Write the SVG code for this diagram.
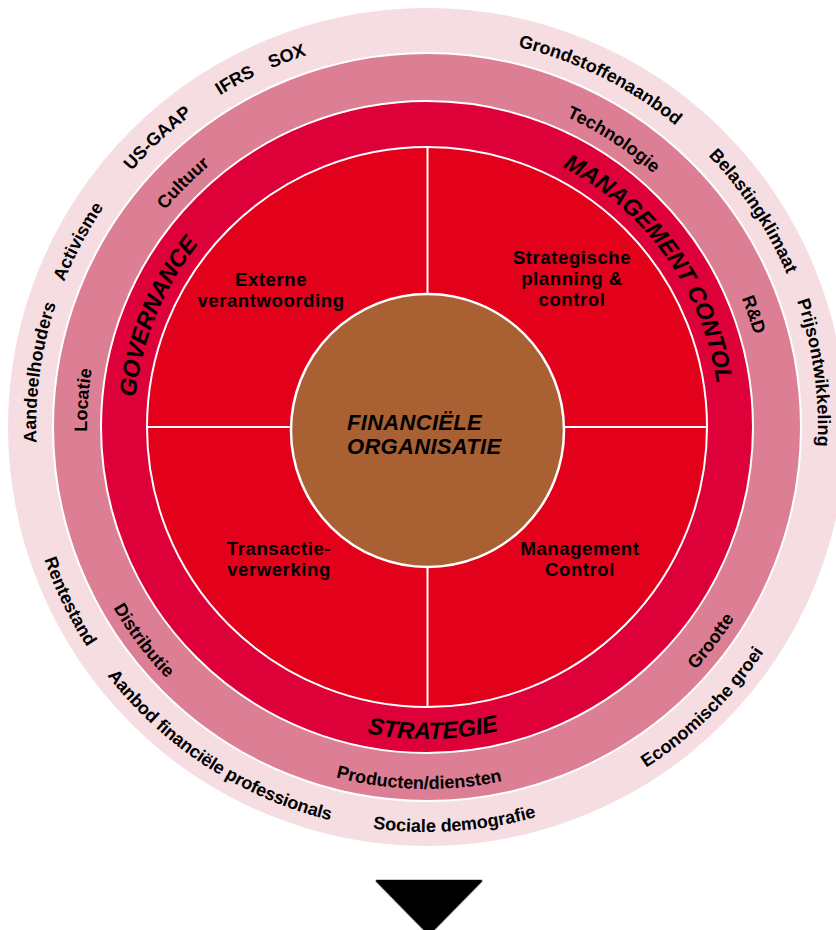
<svg xmlns="http://www.w3.org/2000/svg" width="836" height="930" viewBox="0 0 836 930">
  <style>
    .ring-lbl{font-family:"Liberation Sans",Arial,Helvetica,sans-serif;font-weight:bold;font-size:18px;fill:#000;text-anchor:middle}
    .pillar{font-family:"Liberation Sans",Arial,Helvetica,sans-serif;font-weight:bold;font-style:italic;font-size:23.5px;fill:#000;text-anchor:middle}
    .seg{font-family:"Liberation Sans",Arial,Helvetica,sans-serif;font-weight:bold;font-size:18.5px;letter-spacing:0.6px;fill:#000;text-anchor:middle}
    .core-txt{font-family:"Liberation Sans",Arial,Helvetica,sans-serif;font-weight:bold;font-style:italic;font-size:22px;letter-spacing:0.3px;fill:#000}
    .sep{stroke:#fff;stroke-width:2}
  </style>
  <defs>
    <!-- upper arcs run clockwise (glyph tops outward), lower arcs counter-clockwise (glyph tops inward) -->
    <path id="t391" d="M36,427 A391,391 0 0 1 818,427"/>
    <path id="b405" d="M22,427 A405,405 0 0 0 832,427"/>
    <path id="t340" d="M87,427 A340,340 0 0 1 767,427"/>
    <path id="b362" d="M65,427 A362,362 0 0 0 789,427"/>
    <path id="t293" d="M134,427 A293,293 0 0 1 720,427"/>
    <path id="b312" d="M115,427 A312,312 0 0 0 739,427"/>
  </defs>

  <!-- rings -->
  <g id="ring-environment">
    <circle cx="427" cy="427" r="419" fill="#f5dde2"/>
  </g>
  <g id="ring-organisation">
    <circle cx="427" cy="427" r="374" fill="#dc7e94" class="sep"/>
  </g>
  <g id="ring-pillars">
    <circle cx="427" cy="427" r="326" fill="#de0039" class="sep"/>
  </g>
  <g id="ring-processes">
    <circle cx="427" cy="427" r="280" fill="#e2001a" class="sep"/>
  </g>

  <!-- quadrant dividers -->
  <g id="dividers" class="sep">
    <line x1="427.5" y1="147" x2="427.5" y2="707"/>
    <line x1="147" y1="427" x2="707" y2="427"/>
  </g>

  <!-- core -->
  <g id="core">
    <circle cx="427.5" cy="430.5" r="136.5" fill="#a96033" stroke="#fff" stroke-width="2.5"/>
    <text class="core-txt" x="347" y="429.5">FINANCIËLE</text>
    <text class="core-txt" x="347" y="454">ORGANISATIE</text>
  </g>

  <!-- quadrant labels -->
  <g id="q-externe">
    <text class="seg" x="271" y="286">Externe</text>
    <text class="seg" x="271" y="306.5">verantwoording</text>
  </g>
  <g id="q-strategische">
    <text class="seg" x="572" y="264">Strategische</text>
    <text class="seg" x="572" y="285">planning &amp;</text>
    <text class="seg" x="572" y="306">control</text>
  </g>
  <g id="q-transactie">
    <text class="seg" x="279" y="555">Transactie-</text>
    <text class="seg" x="279" y="575.5">verwerking</text>
  </g>
  <g id="q-management">
    <text class="seg" x="580" y="555">Management</text>
    <text class="seg" x="580" y="575.5">Control</text>
  </g>

  <!-- pillar labels -->
  <g id="p-governance">
    <text class="pillar" transform="rotate(292.3 427 427)"><textPath href="#t293" startOffset="50%">GOVERNANCE</textPath></text>
  </g>
  <g id="p-management">
    <text class="pillar" transform="rotate(54.5 427 427)"><textPath href="#t293" startOffset="50%">MANAGEMENT CONTOL</textPath></text>
  </g>
  <g id="p-strategie">
    <text class="pillar" transform="rotate(-1.1 427 427)"><textPath href="#b312" startOffset="50%">STRATEGIE</textPath></text>
  </g>

  <!-- organisation factors -->
  <g id="org-factors">
    <text class="ring-lbl" transform="rotate(315 427 427)"><textPath href="#t340" startOffset="50%">Cultuur</textPath></text>
    <text class="ring-lbl" transform="rotate(33 427 427)"><textPath href="#t340" startOffset="50%">Technologie</textPath></text>
    <text class="ring-lbl" transform="rotate(71 427 427)"><textPath href="#t340" startOffset="50%">R&amp;D</textPath></text>
    <text class="ring-lbl" transform="rotate(274.5 427 427)"><textPath href="#t340" startOffset="50%">Locatie</textPath></text>
    <text class="ring-lbl" transform="rotate(-53 427 427)"><textPath href="#b362" startOffset="50%">Grootte</textPath></text>
    <text class="ring-lbl" transform="rotate(1.3 427 427)"><textPath href="#b362" startOffset="50%">Producten/diensten</textPath></text>
    <text class="ring-lbl" transform="rotate(53 427 427)"><textPath href="#b362" startOffset="50%">Distributie</textPath></text>
  </g>

  <!-- environment factors -->
  <g id="env-factors">
    <text class="ring-lbl" transform="rotate(26.5 427 427)"><textPath href="#t391" startOffset="50%">Grondstoffenaanbod</textPath></text>
    <text class="ring-lbl" transform="rotate(56.5 427 427)"><textPath href="#t391" startOffset="50%">Belastingklimaat</textPath></text>
    <text class="ring-lbl" transform="rotate(82 427 427)"><textPath href="#t391" startOffset="50%">Prijsontwikkeling</textPath></text>
    <text class="ring-lbl" transform="rotate(278 427 427)"><textPath href="#t391" startOffset="50%">Aandeelhouders</textPath></text>
    <text class="ring-lbl" transform="rotate(298 427 427)"><textPath href="#t391" startOffset="50%">Activisme</textPath></text>
    <text class="ring-lbl" transform="rotate(317 427 427)"><textPath href="#t391" startOffset="50%">US-GAAP</textPath></text>
    <text class="ring-lbl" transform="rotate(331 427 427)"><textPath href="#t391" startOffset="50%">IFRS</textPath></text>
    <text class="ring-lbl" transform="rotate(339.3 427 427)"><textPath href="#t391" startOffset="50%">SOX</textPath></text>
    <text class="ring-lbl" transform="rotate(-44.5 427 427)"><textPath href="#b405" startOffset="50%">Economische groei</textPath></text>
    <text class="ring-lbl" transform="rotate(-4 427 427)"><textPath href="#b405" startOffset="50%">Sociale demografie</textPath></text>
    <text class="ring-lbl" transform="rotate(33 427 427)" letter-spacing="-0.2"><textPath href="#b405" startOffset="50%">Aanbod financiële professionals</textPath></text>
    <text class="ring-lbl" transform="rotate(64 427 427)"><textPath href="#b405" startOffset="50%">Rentestand</textPath></text>
  </g>

  <!-- downward pointer -->
  <g id="pointer">
    <path d="M377,881 L481,881 L429,934 Z" fill="#000" stroke="#c9c9c9" stroke-width="4" stroke-linejoin="round"/>
    <path d="M377,881 L481,881 L429,934 Z" fill="#000" stroke="#000" stroke-width="2" stroke-linejoin="round"/>
  </g>
</svg>
